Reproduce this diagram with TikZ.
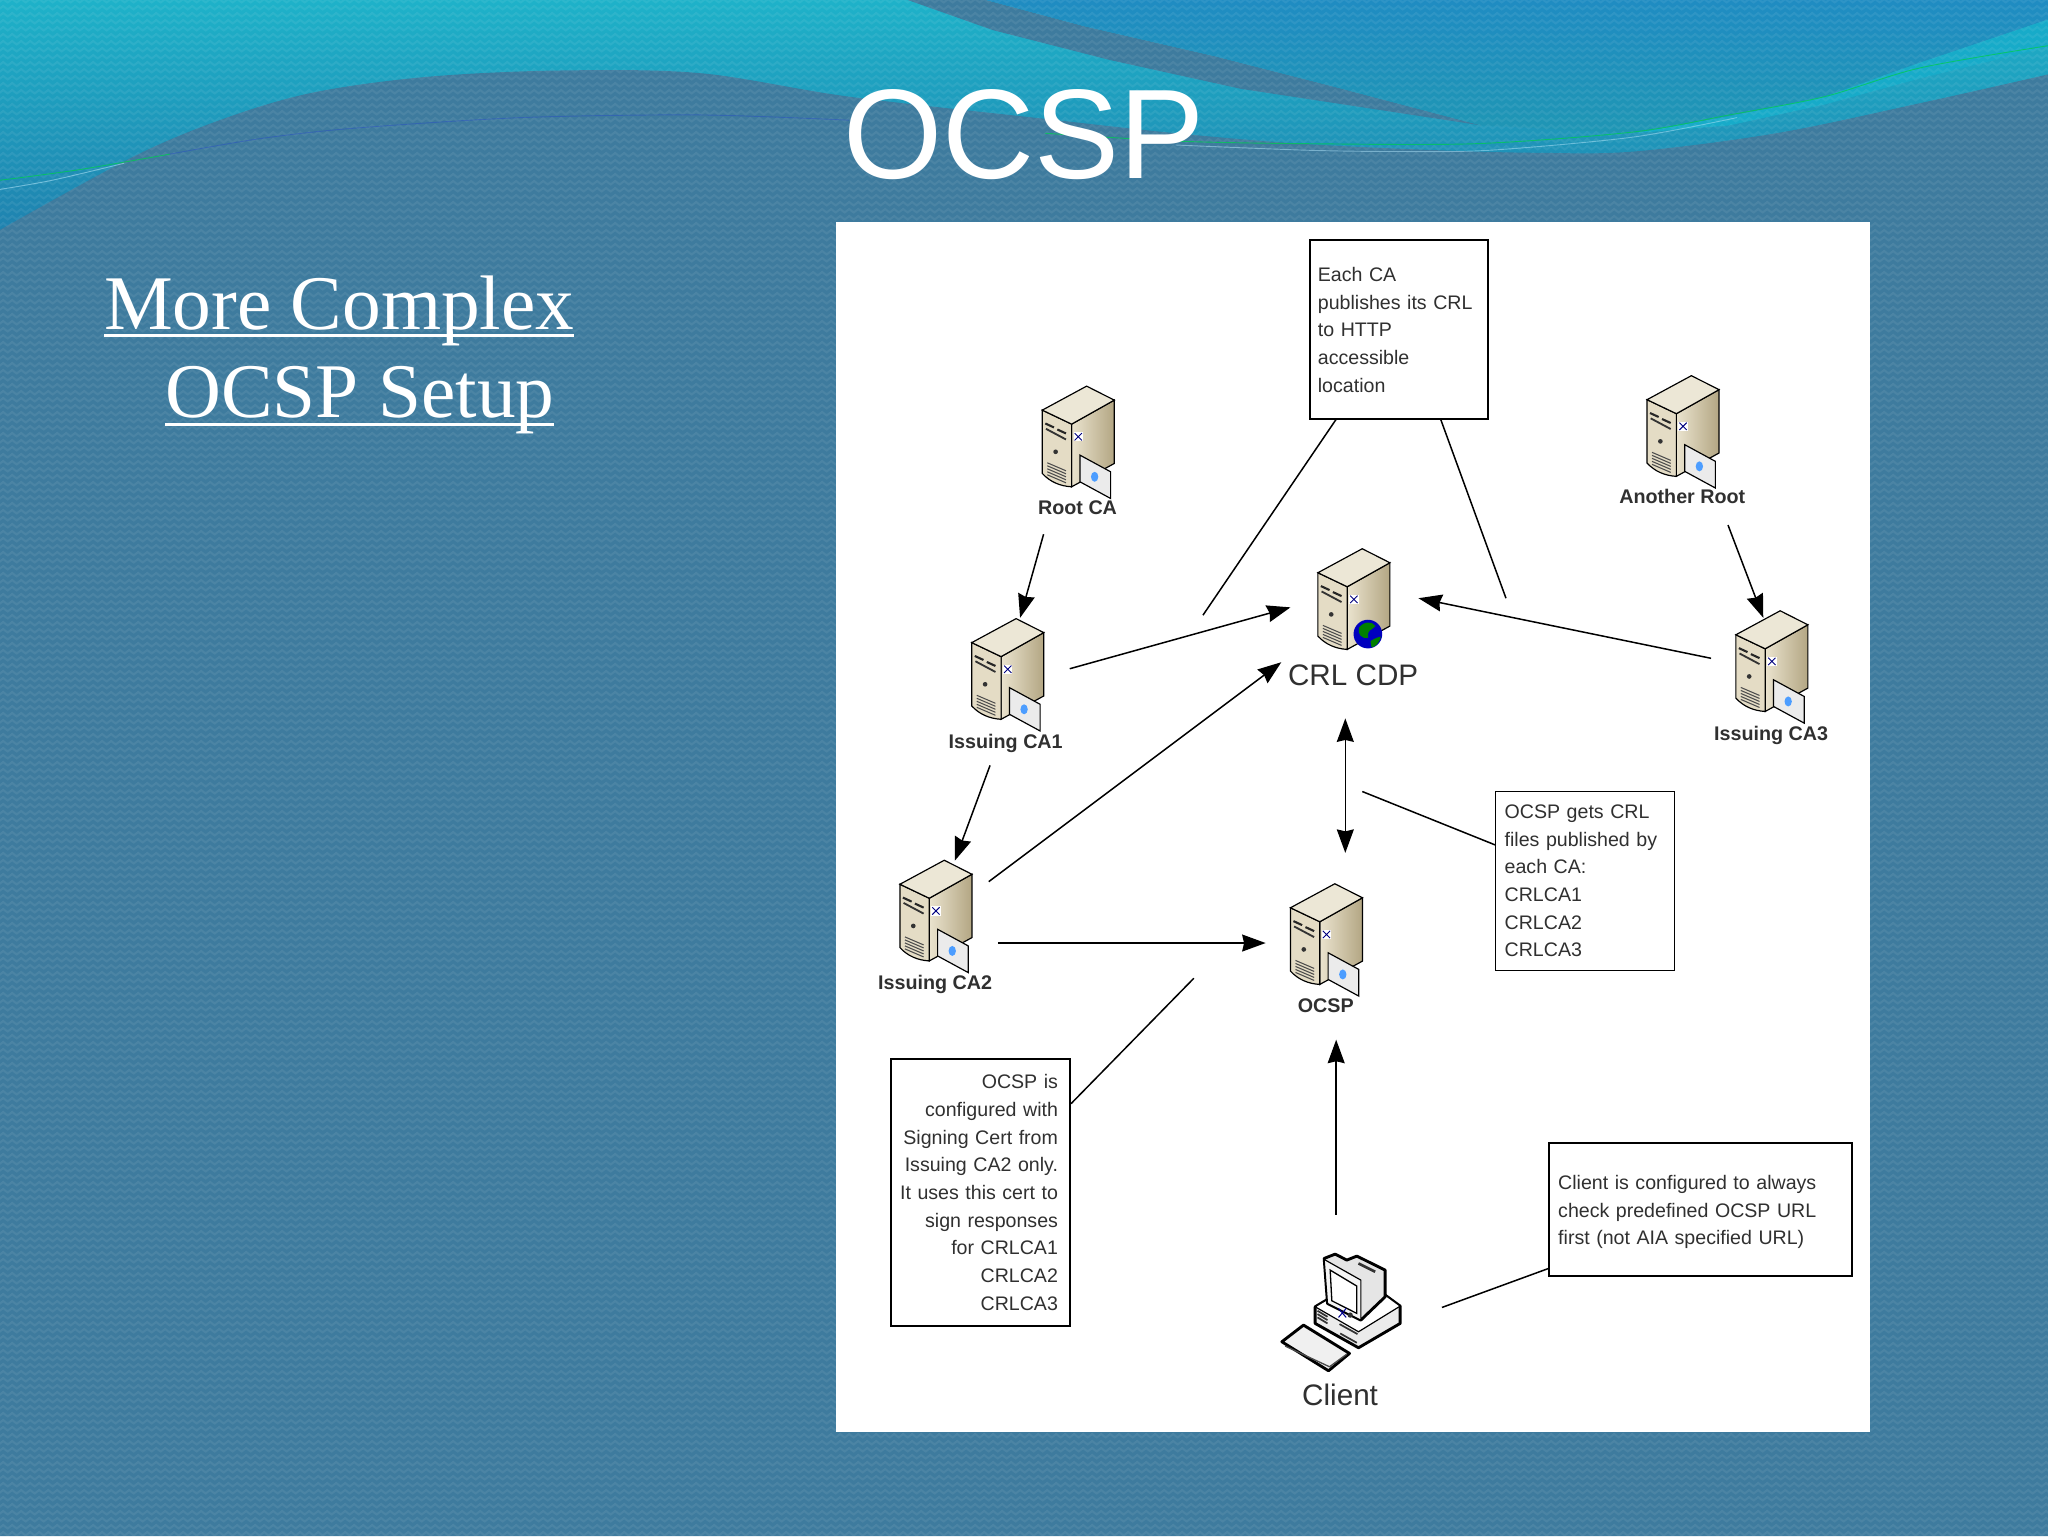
\documentclass[tikz,border=0pt]{standalone}
\usepackage{fontspec}
\setmainfont{Liberation Sans}
\newfontfamily\serifface{Liberation Serif}
\usetikzlibrary{arrows.meta,patterns}
\definecolor{hillc}{HTML}{3E7B9E}
\definecolor{tealtop}{HTML}{1EB2C9}
\definecolor{tealbot}{HTML}{1F82AF}
\definecolor{bluetop}{HTML}{1F8CC2}
\definecolor{bluebot}{HTML}{1F96B4}
\definecolor{ribbon}{HTML}{17ABC9}
\definecolor{ink}{HTML}{303030}
\definecolor{beige0}{HTML}{ECE7D6}
\definecolor{beige1}{HTML}{E4DCC5}
\definecolor{beige2}{HTML}{EAE3CE}
\definecolor{beige3}{HTML}{B3A683}
\pgfdeclarepatternformonly{wovenzz}{\pgfqpoint{0pt}{0pt}}{\pgfqpoint{7pt}{5.6pt}}{\pgfqpoint{7pt}{5.6pt}}{%
  \pgfsetlinewidth{1.7pt}%
  \pgfpathmoveto{\pgfqpoint{-1pt}{1pt}}%
  \pgfpathlineto{\pgfqpoint{0pt}{1.4pt}}%
  \pgfpathlineto{\pgfqpoint{3.5pt}{4.2pt}}%
  \pgfpathlineto{\pgfqpoint{7pt}{1.4pt}}%
  \pgfpathlineto{\pgfqpoint{8pt}{2.2pt}}%
  \pgfusepath{stroke}}
\newcommand\myul[1]{\setbox0\hbox{#1}\rlap{\rule[-6.2pt]{\wd0}{2.6pt}}\box0\relax}
\newcommand\rpad{\rule{4.5pt}{0pt}}
\tikzset{
  conn/.style={line width=1.15pt,draw=black},
  arr/.style={conn,-{Stealth[length=18pt,width=13pt,inset=1.5pt]}},
  darr/.style={conn,{Stealth[length=18pt,width=13pt,inset=1.5pt]}-{Stealth[length=18pt,width=13pt,inset=1.5pt]}},
  note/.style={draw=black,line width=1.3pt,fill=white,inner sep=0pt,text=ink,
    font=\fontsize{15}{21.2}\selectfont},
  lab/.style={text=ink,inner sep=0pt,font=\fontsize{15.1}{18}\selectfont\bfseries},
  biglab/.style={text=ink,inner sep=0pt,font=\fontsize{22.7}{26}\selectfont},
  pics/srvbase/.style={code={
    \begin{scope}[x=.2552pt,y=-.2552pt,shift={(-247,-180)}]
      \path[left color=beige2,right color=beige3,draw=black,line width=.9pt]
        (335,222)--(463,150)--(463,340)--(335,410)--cycle;
      \path[fill=beige1,draw=black,line width=.9pt]
        (247,180)--(335,222)--(335,410) .. controls (300,408) and (270,395) .. (247,370)--cycle;
      \path[fill=beige0,draw=black,line width=.9pt]
        (247,180)--(380,108)--(463,150)--(335,222)--cycle;
      \draw[line width=1.6pt,black!85] (256,220)--(282,232) (292,238)--(318,250);
      \draw[line width=1.4pt,black!80] (258,236)--(318,268);
      \fill[black!80] (287,305) circle (7);
      \foreach \k in {0,9,18,27,36}{\draw[line width=.8pt,black!70] (262,{338+\k})--(318,{362+\k});}
      \fill[white] (341,246) rectangle (369,274);
      \draw[line width=.7pt,blue!50!black] (344,249)--(366,271) (344,271)--(366,249);
    \end{scope}}},
  pics/srvcard/.style={code={
    \pic {srvbase};
    \begin{scope}[x=.2552pt,y=-.2552pt,shift={(-247,-180)}]
      \path[fill=black!8,draw=black,line width=.9pt] (360,315)--(452,365)--(452,445)--(360,395)--cycle;
      \fill[blue!55!cyan!70!white] (404,380) ellipse (11 and 15);
    \end{scope}}},
  pics/srvglobe/.style={code={
    \pic {srvbase};
    \begin{scope}[x=.2552pt,y=-.2552pt,shift={(-247,-180)}]
      \fill[blue!75!black] (397,364) circle (43);
      \fill[green!50!black] (370,345)..controls (385,325) and (410,325)..(420,340)..controls (405,355) and (395,350)..(398,375)..controls (380,380) and (365,365)..(370,345)--cycle;
      \fill[green!50!black] (405,385)..controls (420,375) and (432,372)..(436,372)..controls (430,392) and (420,402)..(408,404)--cycle;
    \end{scope}}},
  pics/pcicon/.style={code={
    \begin{scope}[x=.2552pt,y=-.2552pt]
      \path[fill=black!8,draw=black,line width=2.2pt,line join=round]
        (225,380)--(262,358)--(435,345)--(480,378)--(480,430)--(355,503)--(225,430)--cycle;
      \path[fill=white,draw=black,line width=.9pt] (225,380)--(355,455)--(480,378)--(435,345)--(262,358)--cycle;
      \path[fill=black!10,draw=black,line width=2.2pt,line join=round]
        (252,235)--(285,222)--(320,240)--(350,228)--(435,270)--(435,350)--(362,420)--(262,370)--cycle;
      \path[fill=black!4,draw=black,line width=.9pt] (252,238)--(362,300)--(362,420)--(262,370)--cycle;
      \path[fill=white,draw=black,line width=1pt] (270,270)--(350,318)--(350,400)--(275,362)--cycle;
      \draw[line width=2pt,black!80] (355,250)--(405,275);
      \draw[line width=1.3pt,black!80] (232,392)--(262,410) (232,402)--(262,420) (232,412)--(262,430)
        (298,432)--(352,462) (300,460)--(350,488);
      \fill[black!80] (330,405) circle (8);
      \draw[line width=.8pt,blue!55!black] (295,385)--(318,412) (295,412)--(318,385);
      \path[fill=black!6,draw=black,line width=2.2pt,line join=round]
        (125,485)--(190,435)--(328,520)--(265,572)--cycle;
      \draw[line width=1pt,black!70] (135,498)--(268,560)--(320,522);
    \end{scope}}},
}
\begin{document}
\begin{tikzpicture}[x=1pt,y=-1pt]
\useasboundingbox (0,0) rectangle (1568,1176);
% background
\shade[top color=tealtop,bottom color=tealbot] (0,0) rectangle (1568,176);
\fill[hillc] (695,0) -- (760,23) -- (850,46) -- (950,68) -- (1134,96) -- (1020,66) -- (930,43) -- (830,20) -- (755,0) -- cycle;
\shade[top color=bluetop,bottom color=bluebot]
   (755,0) -- (830,20) -- (930,43) -- (1020,66) -- (1134,96) -- (1251,102) -- (1324,89) -- (1397,74) -- (1470,48) -- (1568,15) -- (1568,0) -- cycle;
\fill[ribbon] (1251,102) -- (1324,89) -- (1397,74) -- (1470,48) -- (1568,15) -- (1568,36) -- (1470,60) -- (1397,80) -- (1324,96) -- cycle;
\fill[hillc] plot[smooth,tension=.55] coordinates {(0,176) (102,120) (171,91) (239,71) (325,59) (427,54) (536,56) (650,74) (800,91) (900,102) (995,110) (1100,115) (1178,117) (1251,116) (1360,102) (1470,79) (1568,57)} -- (1568,1176) -- (0,1176) -- cycle;
\fill[pattern=wovenzz,pattern color=white,fill opacity=.07] (0,0) rectangle (1568,1176);
% thin ribbon strands
\draw[green!60!cyan!80!black,line width=.7pt,opacity=.75] plot[smooth,tension=.5] coordinates {(0,138) (60,130) (130,118)};
\draw[cyan!30!white,line width=.7pt,opacity=.55] plot[smooth,tension=.5] coordinates {(0,145) (40,138) (95,125)};
\draw[blue!50!hillc,line width=.7pt,opacity=.35] plot[smooth,tension=.5] coordinates {(130,118) (200,106) (273,98) (400,90) (536,88) (650,92)};
\draw[green!60!cyan!80!black,line width=.7pt,opacity=.75] plot[smooth,tension=.5] coordinates {(800,102) (900,108) (1000,110) (1130,110) (1251,101) (1324,88) (1397,74) (1470,52) (1568,35)};
\draw[cyan!30!white,line width=.7pt,opacity=.5] plot[smooth,tension=.5] coordinates {(900,111) (1000,115) (1070,116) (1141,115) (1250,105) (1330,90)};
% title and side text
\node[text=white,inner sep=0pt,anchor=base,font=\fontsize{97.6}{100}\selectfont] (title) at (784,137) {OCSP};
\node[text=white,inner sep=0pt,anchor=base west,font=\fontsize{59.2}{60}\serifface] (side1) at (79.5,252) {\myul{More Complex}};
\node[text=white,inner sep=0pt,anchor=base west,font=\fontsize{59.2}{60}\serifface] (side2) at (126.5,320) {\myul{OCSP Setup}};
% panel
\fill[white] (640,170) rectangle (1432,1096);
% servers
\pic (rootca) at (798,314) {srvcard};
\pic (ca1) at (744,492) {srvcard};
\pic (cdp) at (1009,438.5) {srvglobe};
\pic (aroot) at (1261,306) {srvcard};
\pic (ca3) at (1329,486) {srvcard};
\pic (ca2) at (689,677) {srvcard};
\pic (ocsp) at (988,695) {srvcard};
\pic (pc) at (949.5,903.5) {pcicon};
% labels
\node[lab] (lroot) at (825,388.5) {Root CA};
\node[lab] (lca1) at (770,569.5) {Issuing CA1};
\node[lab] (lca2) at (716,753.5) {Issuing CA2};
\node[lab] (lca3) at (1356,563) {Issuing CA3};
\node[lab] (laroot) at (1288,380) {Another Root};
\node[lab] (locsp) at (1015,770) {OCSP};
\node[biglab] (lcdp) at (1036,517) {CRL CDP};
\node[biglab] (lclient) at (1026,1068) {Client};
% notes
\node[note,minimum width=136pt,minimum height=137pt,text width=124pt,align=left] (ntop) at (1071,252.5)
  {Each CA\\publishes its CRL\\to HTTP\\accessible\\location};
\node[note,minimum width=137pt,minimum height=137pt,text width=123pt,align=left] (ngets) at (1213.5,674.5)
  {OCSP gets CRL\\files published by\\each CA:\\CRLCA1\\CRLCA2\\CRLCA3};
\node[note,minimum width=137pt,minimum height=204pt,text width=128pt,align=right] (ncfg) at (750.5,913)
  {OCSP is\rpad\\configured with\rpad\\Signing Cert from\rpad\\Issuing CA2 only.\rpad\\It uses this cert to\rpad\\sign responses\rpad\\for CRLCA1\rpad\\CRLCA2\rpad\\CRLCA3\rpad};
\node[note,minimum width=232pt,minimum height=102pt,text width=218pt,align=left] (ncli) at (1302,926)
  {\rule{0pt}{15pt}Client is configured to always\\check predefined OCSP URL\\first (not AIA specified URL)};
% connector ends
\coordinate (a1) at (799,409); \coordinate (a2) at (781,473);
\coordinate (b1) at (819,512); \coordinate (b2) at (988,465);
\coordinate (c1) at (757,675); \coordinate (c2) at (981,507);
\coordinate (d1) at (758,586); \coordinate (d2) at (731,659);
\coordinate (e1) at (764,722); \coordinate (e2) at (969,722);
\coordinate (f1) at (1030,550); \coordinate (f2) at (1030,653);
\coordinate (g1) at (1023,930); \coordinate (g2) at (1023,796);
\coordinate (h1) at (1310,504); \coordinate (h2) at (1086,458);
\coordinate (i1) at (1323,402); \coordinate (i2) at (1350,473);
\coordinate (j1) at (1023,321); \coordinate (j2) at (921,471);
\coordinate (k1) at (1103,321); \coordinate (k2) at (1153,458);
\coordinate (l1) at (1145,647); \coordinate (l2) at (1043,606);
\coordinate (m1) at (820,845); \coordinate (m2) at (914,749);
\coordinate (n1) at (1186,971); \coordinate (n2) at (1104,1001);
\draw[arr] (a1) -- (a2);
\draw[arr] (b1) -- (b2);
\draw[arr] (c1) -- (c2);
\draw[arr] (d1) -- (d2);
\draw[arr] (e1) -- (e2);
\draw[darr] (f1) -- (f2);
\draw[arr] (g1) -- (g2);
\draw[arr] (h1) -- (h2);
\draw[arr] (i1) -- (i2);
\draw[conn] (j1) -- (j2);
\draw[conn] (k1) -- (k2);
\draw[conn] (l1) -- (l2);
\draw[conn] (m1) -- (m2);
\draw[conn] (n1) -- (n2);
\end{tikzpicture}
\end{document}
